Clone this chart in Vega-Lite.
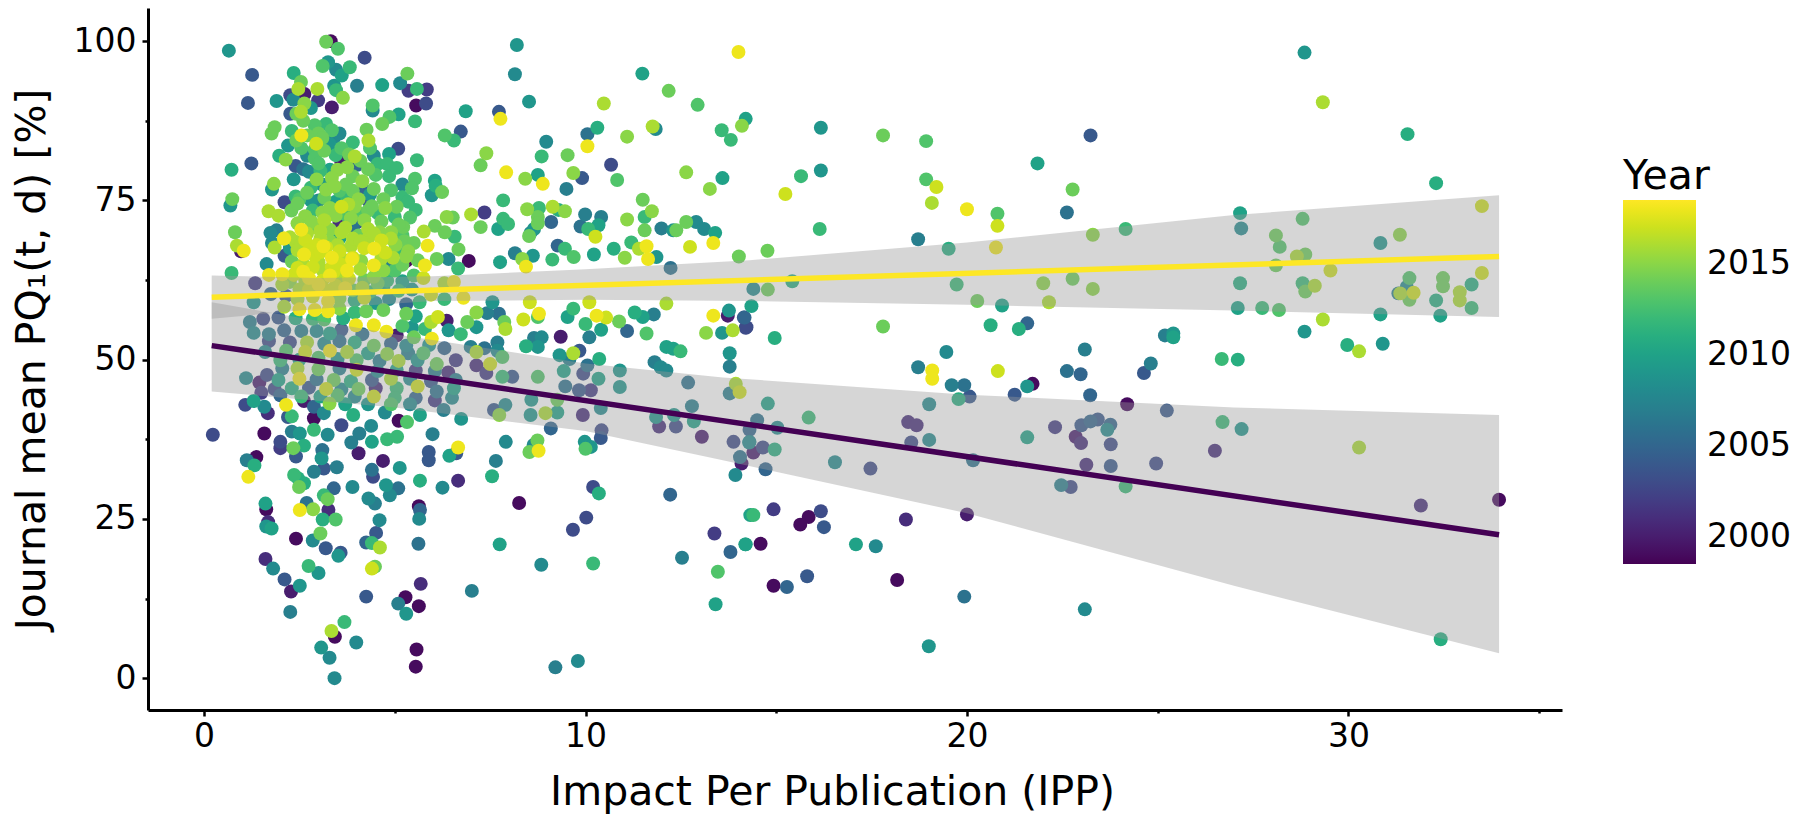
{"$schema":"https://vega.github.io/schema/vega-lite/v6.json","autosize":"none","width":1414,"height":702,"padding":{"left":148,"top":8,"right":238,"bottom":112},"background":"white","config":{"view":{"stroke":null},"font":"DejaVu Sans"},
"datasets":{
"journals":[
{"ipp":28.85,"pq1":98.2,"year":2009},{"ipp":29.33,"pq1":90.4,"year":2016},{"ipp":31.55,"pq1":85.4,"year":2011},{"ipp":23.24,"pq1":85.2,"year":2004},{"ipp":16.17,"pq1":86.4,"year":2009},{"ipp":17.8,"pq1":85.2,"year":2014},{"ipp":18.93,"pq1":84.3,"year":2013},{"ipp":14.2,"pq1":87.8,"year":2010},{"ipp":14.1,"pq1":86.7,"year":2015},{"ipp":32.3,"pq1":77.7,"year":2011},{"ipp":21.85,"pq1":80.8,"year":2010},{"ipp":16.17,"pq1":79.7,"year":2009},{"ipp":15.65,"pq1":78.8,"year":2012},{"ipp":18.93,"pq1":78.3,"year":2013},{"ipp":19.2,"pq1":77.1,"year":2017},{"ipp":15.24,"pq1":76,"year":2017},{"ipp":22.77,"pq1":76.7,"year":2014},{"ipp":22.62,"pq1":73.1,"year":2006},{"ipp":19.08,"pq1":74.6,"year":2016},{"ipp":20,"pq1":73.6,"year":2018},{"ipp":20.8,"pq1":72.9,"year":2013},{"ipp":20.8,"pq1":71,"year":2017},{"ipp":27.16,"pq1":73,"year":2010},{"ipp":27.19,"pq1":70.6,"year":2008},{"ipp":16.14,"pq1":70.5,"year":2012},{"ipp":24.16,"pq1":70.5,"year":2012},{"ipp":23.3,"pq1":69.6,"year":2015},{"ipp":28.8,"pq1":72.1,"year":2013},{"ipp":28.1,"pq1":69.5,"year":2014},{"ipp":28.2,"pq1":67.7,"year":2013},{"ipp":28.87,"pq1":66.5,"year":2014},{"ipp":28.65,"pq1":66.2,"year":2016},{"ipp":28.1,"pq1":64.8,"year":2014},{"ipp":31.35,"pq1":69.6,"year":2015},{"ipp":30.84,"pq1":68.3,"year":2009},{"ipp":33.5,"pq1":74.1,"year":2017},{"ipp":33.5,"pq1":63.6,"year":2017},{"ipp":18.72,"pq1":68.9,"year":2007},{"ipp":19.52,"pq1":67.4,"year":2011},{"ipp":20.76,"pq1":67.6,"year":2018},{"ipp":14.77,"pq1":67.1,"year":2014},{"ipp":29.53,"pq1":64,"year":2017},{"ipp":22,"pq1":62,"year":2015},{"ipp":22.77,"pq1":62.7,"year":2014},{"ipp":23.3,"pq1":61.1,"year":2015},{"ipp":19.73,"pq1":61.8,"year":2012},{"ipp":20.27,"pq1":59.2,"year":2014},{"ipp":20.92,"pq1":58.5,"year":2010},{"ipp":22.15,"pq1":59,"year":2016},{"ipp":15.42,"pq1":62.3,"year":2011},{"ipp":14.78,"pq1":61,"year":2014},{"ipp":14.4,"pq1":61.1,"year":2008},{"ipp":27.16,"pq1":62,"year":2011},{"ipp":27.1,"pq1":58.1,"year":2010},{"ipp":27.74,"pq1":58.1,"year":2012},{"ipp":28.18,"pq1":57.8,"year":2013},{"ipp":28.8,"pq1":62,"year":2012},{"ipp":28.87,"pq1":60.7,"year":2014},{"ipp":29.12,"pq1":61.6,"year":2016},{"ipp":30.84,"pq1":57.1,"year":2010},{"ipp":31.6,"pq1":62.8,"year":2013},{"ipp":31.53,"pq1":61.4,"year":2008},{"ipp":31.31,"pq1":60.4,"year":2007},{"ipp":31.36,"pq1":60.4,"year":2016},{"ipp":31.71,"pq1":60.5,"year":2017},{"ipp":31.6,"pq1":59.4,"year":2014},{"ipp":32.48,"pq1":62.8,"year":2014},{"ipp":32.48,"pq1":61.5,"year":2014},{"ipp":32.92,"pq1":60.6,"year":2016},{"ipp":32.92,"pq1":59.3,"year":2016},{"ipp":33.23,"pq1":61.8,"year":2011},{"ipp":33.23,"pq1":58.1,"year":2012},{"ipp":32.3,"pq1":59.3,"year":2011},{"ipp":32.41,"pq1":56.9,"year":2010},{"ipp":29.33,"pq1":56.3,"year":2016},{"ipp":28.85,"pq1":54.4,"year":2009},{"ipp":14.35,"pq1":58.4,"year":2010},{"ipp":17.8,"pq1":55.2,"year":2014},{"ipp":14.96,"pq1":53.4,"year":2011},{"ipp":20.62,"pq1":55.4,"year":2011},{"ipp":21.58,"pq1":55.7,"year":2005},{"ipp":21.36,"pq1":54.8,"year":2011},{"ipp":14.17,"pq1":56.6,"year":2005},{"ipp":14.22,"pq1":55.1,"year":2003},{"ipp":25.19,"pq1":53.8,"year":2007},{"ipp":25.41,"pq1":54.1,"year":2009},{"ipp":25.41,"pq1":53.5,"year":2010},{"ipp":26.68,"pq1":50.1,"year":2012},{"ipp":27.1,"pq1":50,"year":2011},{"ipp":29.97,"pq1":52.3,"year":2011},{"ipp":30.28,"pq1":51.3,"year":2016},{"ipp":30.9,"pq1":52.5,"year":2009},{"ipp":19.46,"pq1":51.2,"year":2008},{"ipp":23.09,"pq1":51.6,"year":2007},{"ipp":24.82,"pq1":49.4,"year":2007},{"ipp":24.64,"pq1":47.9,"year":2004},{"ipp":18.72,"pq1":48.8,"year":2007},{"ipp":19.09,"pq1":48.3,"year":2018},{"ipp":19.09,"pq1":47,"year":2018},{"ipp":20.81,"pq1":48.2,"year":2017},{"ipp":22.62,"pq1":48.2,"year":2006},{"ipp":22.98,"pq1":47.7,"year":2005},{"ipp":19.6,"pq1":46,"year":2007},{"ipp":19.93,"pq1":46,"year":2006},{"ipp":21.72,"pq1":46.2,"year":1999},{"ipp":21.58,"pq1":45.8,"year":2009},{"ipp":21.25,"pq1":44.5,"year":2004},{"ipp":23.23,"pq1":44.4,"year":2005},{"ipp":24.2,"pq1":43,"year":1999},
{"ipp":14.78,"pq1":43.1,"year":2010},{"ipp":15.85,"pq1":40.9,"year":2012},{"ipp":14.5,"pq1":40.5,"year":2006},{"ipp":15.03,"pq1":39.3,"year":2008},{"ipp":14.3,"pq1":39,"year":2005},{"ipp":14.3,"pq1":37.1,"year":2007},{"ipp":14.65,"pq1":36.2,"year":2003},{"ipp":14.96,"pq1":35.9,"year":2011},{"ipp":14.4,"pq1":35.4,"year":2000},{"ipp":14.72,"pq1":32.8,"year":2005},{"ipp":16.54,"pq1":33.9,"year":2008},{"ipp":17.47,"pq1":32.9,"year":2003},{"ipp":18.46,"pq1":40.2,"year":2001},{"ipp":18.68,"pq1":39.7,"year":2001},{"ipp":18.54,"pq1":37,"year":2003},{"ipp":19.01,"pq1":37.4,"year":2008},{"ipp":19.01,"pq1":43,"year":2008},{"ipp":19.78,"pq1":43.8,"year":2011},{"ipp":20.07,"pq1":44.2,"year":2004},{"ipp":20.16,"pq1":34.2,"year":2006},{"ipp":20,"pq1":25.7,"year":2000},{"ipp":19.93,"pq1":12.8,"year":2006},{"ipp":19,"pq1":5,"year":2009},{"ipp":22.31,"pq1":39.4,"year":2002},{"ipp":23,"pq1":39.7,"year":2004},{"ipp":23.24,"pq1":40.3,"year":2005},{"ipp":23.43,"pq1":40.6,"year":2004},{"ipp":23.76,"pq1":39.8,"year":2005},{"ipp":23.68,"pq1":39,"year":2008},{"ipp":22.85,"pq1":37.9,"year":2000},{"ipp":22.99,"pq1":36.9,"year":2001},{"ipp":21.58,"pq1":37.8,"year":2010},{"ipp":23.77,"pq1":36.7,"year":2003},{"ipp":23.13,"pq1":33.5,"year":2001},{"ipp":23.77,"pq1":33.3,"year":2004},{"ipp":24.96,"pq1":33.7,"year":2003},{"ipp":26.5,"pq1":35.7,"year":2001},{"ipp":25.24,"pq1":42,"year":2004},{"ipp":26.7,"pq1":40.2,"year":2012},{"ipp":27.2,"pq1":39.1,"year":2009},{"ipp":22.47,"pq1":30.3,"year":2007},{"ipp":22.72,"pq1":30,"year":2003},{"ipp":24.16,"pq1":30.1,"year":2012},{"ipp":30.28,"pq1":36.2,"year":2016},{"ipp":31.9,"pq1":27.1,"year":2001},{"ipp":33.95,"pq1":28,"year":1999},{"ipp":32.42,"pq1":6.1,"year":2011},{"ipp":23.09,"pq1":10.8,"year":2008},{"ipp":14.93,"pq1":26.5,"year":2002},{"ipp":14.4,"pq1":25.6,"year":2012},{"ipp":15.85,"pq1":25.3,"year":1999},{"ipp":15.63,"pq1":24.1,"year":1999},{"ipp":16.17,"pq1":26.2,"year":2003},{"ipp":16.25,"pq1":23.7,"year":2004},{"ipp":18.4,"pq1":24.9,"year":2001},{"ipp":14.2,"pq1":21,"year":2010},{"ipp":14.59,"pq1":21.1,"year":1999},{"ipp":17.09,"pq1":21,"year":2010},{"ipp":17.61,"pq1":20.7,"year":2008},{"ipp":14.93,"pq1":14.5,"year":1999},{"ipp":15.28,"pq1":14.3,"year":2005},{"ipp":15.81,"pq1":16,"year":2004},{"ipp":18.17,"pq1":15.4,"year":1999},
{"ipp":0.23,"pq1":38.2,"year":2003},{"ipp":1.08,"pq1":42.9,"year":2003},{"ipp":1.3,"pq1":43.5,"year":2010},{"ipp":1.58,"pq1":42.6,"year":2008},{"ipp":1.67,"pq1":41.6,"year":2001},{"ipp":1.58,"pq1":38.4,"year":1999},{"ipp":2.15,"pq1":42.9,"year":2018},{"ipp":2.3,"pq1":41.1,"year":2012},{"ipp":2.62,"pq1":43.5,"year":2000},{"ipp":2.88,"pq1":42.6,"year":2005},{"ipp":3.29,"pq1":43.1,"year":2015},{"ipp":3.14,"pq1":41.6,"year":2008},{"ipp":2.88,"pq1":40.8,"year":1999},{"ipp":2.2,"pq1":41,"year":2004},{"ipp":2.3,"pq1":38.7,"year":2007},{"ipp":2.51,"pq1":38.4,"year":2009},{"ipp":2.88,"pq1":39,"year":2012},{"ipp":3.24,"pq1":38.2,"year":2008},{"ipp":3.6,"pq1":39.7,"year":2003},{"ipp":3.91,"pq1":41.3,"year":2011},{"ipp":4.07,"pq1":38.4,"year":2007},{"ipp":4.38,"pq1":39.6,"year":2008},{"ipp":4.4,"pq1":37.1,"year":2010},{"ipp":3.86,"pq1":37,"year":2007},{"ipp":4.74,"pq1":41.7,"year":2008},{"ipp":4.8,"pq1":37.5,"year":2012},{"ipp":5.06,"pq1":37.9,"year":2012},{"ipp":5.1,"pq1":40.4,"year":1999},{"ipp":5.32,"pq1":40.2,"year":2013},{"ipp":5.66,"pq1":41.3,"year":2010},{"ipp":6.28,"pq1":42.1,"year":2007},{"ipp":6.74,"pq1":40.7,"year":2009},{"ipp":5.99,"pq1":38.3,"year":2007},{"ipp":2,"pq1":37.1,"year":2003},{"ipp":2,"pq1":36.1,"year":2002},{"ipp":2.34,"pq1":36.1,"year":2014},{"ipp":2.62,"pq1":36.5,"year":2011},{"ipp":2.41,"pq1":34.8,"year":2004},{"ipp":3.1,"pq1":35.8,"year":2006},{"ipp":3.08,"pq1":34.5,"year":2009},{"ipp":3.14,"pq1":32.9,"year":2004},{"ipp":2.88,"pq1":32.4,"year":2007},{"ipp":3.48,"pq1":33.1,"year":2007},{"ipp":4.05,"pq1":35.3,"year":2000},{"ipp":4.69,"pq1":34.1,"year":2000},{"ipp":4.4,"pq1":32.7,"year":2006},{"ipp":4.43,"pq1":31.6,"year":2003},{"ipp":5.13,"pq1":33,"year":2009},{"ipp":5.89,"pq1":35.5,"year":2004},{"ipp":5.89,"pq1":34.2,"year":2004},{"ipp":6.43,"pq1":34.9,"year":2010},{"ipp":6.66,"pq1":36.2,"year":2018},{"ipp":6.61,"pq1":35.3,"year":2004},{"ipp":7.65,"pq1":34.1,"year":2007},{"ipp":7.91,"pq1":37.1,"year":2008},{"ipp":7.55,"pq1":31.7,"year":2011},{"ipp":6.66,"pq1":31,"year":2001},{"ipp":6.25,"pq1":29.9,"year":2008},{"ipp":5.66,"pq1":31,"year":2011},{"ipp":8.53,"pq1":35.5,"year":2014},{"ipp":8.74,"pq1":37.3,"year":2014},{"ipp":8.64,"pq1":36.6,"year":2008},{"ipp":8.77,"pq1":35.7,"year":2018},{"ipp":9.09,"pq1":39.2,"year":2005},{"ipp":9.98,"pq1":37.1,"year":2009},{"ipp":10.14,"pq1":36.3,"year":2009},{"ipp":10,"pq1":36,"year":2013},{"ipp":10.4,"pq1":37.7,"year":2004},{"ipp":10.42,"pq1":38.9,"year":2003},{"ipp":13.93,"pq1":31.9,"year":2008},{"ipp":14.05,"pq1":34.7,"year":2006},{"ipp":14.09,"pq1":33.7,"year":2000},{"ipp":8.26,"pq1":27.5,"year":1999},{"ipp":10.2,"pq1":30,"year":2003},{"ipp":10.35,"pq1":29,"year":2011},{"ipp":10.02,"pq1":25.2,"year":2003},{"ipp":9.67,"pq1":23.3,"year":2003},{"ipp":12.22,"pq1":28.8,"year":2005},{"ipp":13.38,"pq1":22.7,"year":2002},{"ipp":12.53,"pq1":18.9,"year":2007},{"ipp":13.8,"pq1":19.8,"year":2005},{"ipp":14.19,"pq1":21,"year":2010},{"ipp":13.47,"pq1":16.7,"year":2013},{"ipp":13.41,"pq1":11.6,"year":2010},{"ipp":14.32,"pq1":25.6,"year":2010},{"ipp":10.2,"pq1":18,"year":2012},{"ipp":8.84,"pq1":17.8,"year":2008},{"ipp":7.75,"pq1":21,"year":2010},{"ipp":7.02,"pq1":13.7,"year":2007},{"ipp":9.21,"pq1":1.7,"year":2007},{"ipp":9.8,"pq1":2.7,"year":2008},{"ipp":1.12,"pq1":34.2,"year":2007},{"ipp":1.37,"pq1":34.7,"year":1999},{"ipp":1.32,"pq1":33.4,"year":2011},{"ipp":1.16,"pq1":31.6,"year":2018},{"ipp":2.36,"pq1":31.9,"year":2012},{"ipp":2.46,"pq1":31.4,"year":2011},{"ipp":2.62,"pq1":30.6,"year":2011},{"ipp":2.49,"pq1":30,"year":2014},{"ipp":3.4,"pq1":29.8,"year":2005},{"ipp":3.89,"pq1":30,"year":2008},{"ipp":4.77,"pq1":30.3,"year":2009},{"ipp":5.09,"pq1":29.8,"year":2006},{"ipp":4.87,"pq1":28.7,"year":2008},{"ipp":3.14,"pq1":28.7,"year":2012},{"ipp":3.24,"pq1":28.1,"year":2014},{"ipp":4.31,"pq1":28.2,"year":2008},{"ipp":4.48,"pq1":27.4,"year":2007},{"ipp":1.61,"pq1":27.4,"year":2010},{"ipp":1.63,"pq1":26.5,"year":1999},{"ipp":2.69,"pq1":27.5,"year":2006},{"ipp":3.26,"pq1":26.4,"year":2001},{"ipp":2.51,"pq1":26.4,"year":2018},{"ipp":2.86,"pq1":26.5,"year":2015},{"ipp":5.63,"pq1":27,"year":1999},{"ipp":5.66,"pq1":26.4,"year":2005},{"ipp":4.6,"pq1":24.8,"year":2008},{"ipp":5.64,"pq1":25,"year":2008},{"ipp":1.68,"pq1":24.5,"year":2001},{"ipp":1.63,"pq1":23.8,"year":2009},{"ipp":1.77,"pq1":23.5,"year":2010},{"ipp":3.11,"pq1":24.9,"year":2011},{"ipp":3.45,"pq1":24.9,"year":2013},{"ipp":2.41,"pq1":21.9,"year":1999},{"ipp":3.05,"pq1":22.7,"year":2014},{"ipp":4.51,"pq1":22.8,"year":2004},{"ipp":2.85,"pq1":21.6,"year":2008},{"ipp":4.25,"pq1":21.3,"year":2005},{"ipp":4.4,"pq1":21.2,"year":2012},{"ipp":4.61,"pq1":20.5,"year":2016},{"ipp":5.62,"pq1":21.1,"year":2006},{"ipp":3.19,"pq1":20.4,"year":2004},{"ipp":3.58,"pq1":19.7,"year":2004},{"ipp":3.52,"pq1":19.2,"year":2009},{"ipp":1.61,"pq1":18.7,"year":2001},{"ipp":1.81,"pq1":17.2,"year":2008},{"ipp":2.74,"pq1":17.6,"year":2012},{"ipp":3,"pq1":16.5,"year":2009},{"ipp":4.48,"pq1":17.5,"year":2014},{"ipp":4.4,"pq1":17.2,"year":2017},{"ipp":2.11,"pq1":15.5,"year":2004},{"ipp":2.51,"pq1":14.5,"year":2009},{"ipp":2.28,"pq1":13.6,"year":2000},{"ipp":5.68,"pq1":14.8,"year":2001},{"ipp":4.25,"pq1":12.8,"year":2004},{"ipp":5.28,"pq1":12.7,"year":1999},{"ipp":5.09,"pq1":11.7,"year":2007},{"ipp":5.63,"pq1":11.3,"year":1999},{"ipp":5.3,"pq1":10.1,"year":2009},{"ipp":2.26,"pq1":10.4,"year":2007},{"ipp":3.68,"pq1":8.8,"year":2012},{"ipp":3.34,"pq1":7.4,"year":2016},{"ipp":3.43,"pq1":6.5,"year":1999},{"ipp":3.99,"pq1":5.6,"year":2008},{"ipp":3.07,"pq1":4.8,"year":2009},{"ipp":3.29,"pq1":3.2,"year":2008},{"ipp":3.42,"pq1":0,"year":2008},{"ipp":5.57,"pq1":4.5,"year":1999},{"ipp":5.55,"pq1":1.8,"year":1999},
{"ipp":0.65,"pq1":98.5,"year":2009},{"ipp":3.32,"pq1":100,"year":1999},{"ipp":3.2,"pq1":99.9,"year":2014},{"ipp":3.51,"pq1":98.8,"year":2013},{"ipp":4.21,"pq1":97.4,"year":2003},{"ipp":8.2,"pq1":99.4,"year":2009},{"ipp":14.01,"pq1":98.3,"year":2018},{"ipp":1.26,"pq1":94.7,"year":2004},{"ipp":2.35,"pq1":95,"year":2011},{"ipp":3.11,"pq1":96.1,"year":2013},{"ipp":3.25,"pq1":96.7,"year":2009},{"ipp":3.82,"pq1":95.9,"year":2012},{"ipp":3.46,"pq1":95.5,"year":2008},{"ipp":3.61,"pq1":94.6,"year":2010},{"ipp":5.33,"pq1":94.9,"year":2014},{"ipp":8.15,"pq1":94.8,"year":2008},{"ipp":11.49,"pq1":94.9,"year":2010},{"ipp":12.18,"pq1":92.2,"year":2014},{"ipp":1.15,"pq1":90.3,"year":2004},{"ipp":1.9,"pq1":90.6,"year":2009},{"ipp":2.54,"pq1":93.6,"year":2014},{"ipp":2.47,"pq1":92.5,"year":2016},{"ipp":2.97,"pq1":92.5,"year":2016},{"ipp":2.63,"pq1":91.7,"year":2000},{"ipp":2.26,"pq1":91.5,"year":2003},{"ipp":2.34,"pq1":90.8,"year":2008},{"ipp":2.99,"pq1":90.7,"year":2002},{"ipp":3.41,"pq1":93,"year":2009},{"ipp":3.46,"pq1":92.3,"year":2012},{"ipp":4.01,"pq1":93,"year":2007},{"ipp":4.67,"pq1":93.1,"year":2010},{"ipp":5.14,"pq1":93.4,"year":2008},{"ipp":5.36,"pq1":92.2,"year":2002},{"ipp":5.58,"pq1":92.5,"year":2012},{"ipp":5.84,"pq1":92.4,"year":2002},{"ipp":5.56,"pq1":89.9,"year":1999},{"ipp":5.82,"pq1":90.2,"year":2003},{"ipp":3.35,"pq1":89.6,"year":2000},{"ipp":3.64,"pq1":91.1,"year":2015},{"ipp":4.42,"pq1":89.9,"year":2013},{"ipp":4.42,"pq1":89.1,"year":2008},{"ipp":2.63,"pq1":90.2,"year":2015},{"ipp":2.8,"pq1":89.5,"year":2009},{"ipp":2.26,"pq1":88.6,"year":2004},{"ipp":2.42,"pq1":88.6,"year":2014},{"ipp":2.54,"pq1":88.9,"year":2016},{"ipp":8.52,"pq1":90.5,"year":2009},{"ipp":6.86,"pq1":89,"year":2010},{"ipp":7.73,"pq1":88.9,"year":2004},{"ipp":7.77,"pq1":87.8,"year":2018},{"ipp":10.48,"pq1":90.2,"year":2016},{"ipp":12.94,"pq1":90,"year":2013},{"ipp":10.31,"pq1":86.4,"year":2011},{"ipp":10.05,"pq1":85.4,"year":2006},{"ipp":10.05,"pq1":83.5,"year":2018},{"ipp":11.76,"pq1":86.6,"year":2016},{"ipp":11.84,"pq1":86.2,"year":2008},{"ipp":13.57,"pq1":86,"year":2012},{"ipp":13.81,"pq1":84.5,"year":2012},{"ipp":11.09,"pq1":85,"year":2015},{"ipp":5.1,"pq1":88.5,"year":2010},{"ipp":4.86,"pq1":88.1,"year":2013},{"ipp":4.67,"pq1":87,"year":2014},{"ipp":5.53,"pq1":87.4,"year":2012},{"ipp":4.26,"pq1":86.1,"year":2014},{"ipp":4.31,"pq1":84.4,"year":2016},{"ipp":6.73,"pq1":85.8,"year":2004},{"ipp":6.31,"pq1":85.2,"year":2013},{"ipp":6.55,"pq1":84.4,"year":2012},{"ipp":5.09,"pq1":83.1,"year":2003},{"ipp":8.97,"pq1":84.2,"year":2008},{"ipp":8.85,"pq1":81.9,"year":2012},{"ipp":9.53,"pq1":82.1,"year":2014},{"ipp":7.4,"pq1":82.4,"year":2015},{"ipp":7.25,"pq1":80.5,"year":2014},{"ipp":5.58,"pq1":81.3,"year":2012},{"ipp":7.92,"pq1":79.4,"year":2018},{"ipp":8.42,"pq1":78.4,"year":2015},{"ipp":8.88,"pq1":77.6,"year":2018},{"ipp":8.75,"pq1":79,"year":2010},{"ipp":9.68,"pq1":79.3,"year":2015},{"ipp":9.91,"pq1":78.5,"year":2004},{"ipp":9.5,"pq1":76.8,"year":2007},{"ipp":10.67,"pq1":80.6,"year":2003},{"ipp":10.83,"pq1":78.2,"year":2013},{"ipp":12.64,"pq1":79.4,"year":2015},{"ipp":13.59,"pq1":78.5,"year":2010},{"ipp":13.26,"pq1":76.8,"year":2015},{"ipp":11.5,"pq1":75.1,"year":2014},{"ipp":11.74,"pq1":73.3,"year":2015},{"ipp":11.55,"pq1":72.4,"year":2012},{"ipp":11.09,"pq1":72,"year":2015},{"ipp":9.99,"pq1":72.8,"year":2007},{"ipp":10.41,"pq1":72.4,"year":2007},{"ipp":9.1,"pq1":71.6,"year":2005},{"ipp":9.87,"pq1":70.9,"year":2006},{"ipp":10.07,"pq1":70.5,"year":2012},{"ipp":10.34,"pq1":71.1,"year":2010},{"ipp":10.26,"pq1":69.3,"year":2017},{"ipp":11.99,"pq1":70.6,"year":2007},{"ipp":11.55,"pq1":70.3,"year":2014},{"ipp":12.38,"pq1":70.3,"year":2014},{"ipp":12.3,"pq1":70.3,"year":2009},{"ipp":12.64,"pq1":71.6,"year":2014},{"ipp":12.9,"pq1":71.6,"year":2008},{"ipp":13.11,"pq1":70.5,"year":2008},{"ipp":13.4,"pq1":69.9,"year":2010},{"ipp":13.35,"pq1":68.3,"year":2018},{"ipp":12.74,"pq1":67.7,"year":2017},{"ipp":14.02,"pq1":66.2,"year":2014},{"ipp":11.6,"pq1":67.8,"year":2018},{"ipp":11.4,"pq1":67.4,"year":2016},{"ipp":11.2,"pq1":68.4,"year":2012},{"ipp":10.74,"pq1":67.4,"year":2011},{"ipp":10.22,"pq1":66.5,"year":2010},{"ipp":9.69,"pq1":66.1,"year":2013},{"ipp":9.46,"pq1":67.4,"year":2012},{"ipp":9.27,"pq1":67.9,"year":2005},{"ipp":11.64,"pq1":65.8,"year":2018},{"ipp":11.86,"pq1":66.1,"year":2009},{"ipp":11.03,"pq1":66,"year":2015},{"ipp":9.13,"pq1":65.7,"year":2012},{"ipp":8.62,"pq1":66.3,"year":2009},{"ipp":8.34,"pq1":65.8,"year":2015},{"ipp":8.15,"pq1":66.7,"year":2007},{"ipp":8.44,"pq1":64.6,"year":2018},{"ipp":7.76,"pq1":65.3,"year":2010},{"ipp":6.94,"pq1":65.5,"year":1999},{"ipp":6.41,"pq1":65.8,"year":2008},{"ipp":6.67,"pq1":67.3,"year":2014},{"ipp":5.86,"pq1":67.9,"year":2018},{"ipp":5.79,"pq1":64.8,"year":2018},{"ipp":6.1,"pq1":65.8,"year":2014},{"ipp":6.66,"pq1":64.3,"year":2012},{"ipp":12.23,"pq1":64.4,"year":2006},
{"ipp":0.72,"pq1":79.8,"year":2011},{"ipp":1.24,"pq1":80.8,"year":2004},{"ipp":0.74,"pq1":75.2,"year":2014},{"ipp":0.69,"pq1":74.2,"year":2009},{"ipp":0.81,"pq1":70,"year":2014},{"ipp":0.86,"pq1":67.9,"year":2016},{"ipp":1.04,"pq1":67.1,"year":2018},{"ipp":0.97,"pq1":67,"year":2000},{"ipp":0.72,"pq1":63.6,"year":2012},{"ipp":1.34,"pq1":62,"year":2002},{"ipp":1.64,"pq1":65,"year":2008},{"ipp":1.78,"pq1":68.3,"year":2008},{"ipp":1.9,"pq1":70.3,"year":2007},{"ipp":1.74,"pq1":69.9,"year":2008},{"ipp":2.09,"pq1":69,"year":2017},{"ipp":1.85,"pq1":67.6,"year":2016},{"ipp":2.11,"pq1":66.3,"year":2004},{"ipp":1.69,"pq1":73.3,"year":2016},{"ipp":1.95,"pq1":72.6,"year":2016},{"ipp":2.29,"pq1":73.4,"year":2014},{"ipp":2.11,"pq1":74.7,"year":2003},{"ipp":1.78,"pq1":76.7,"year":2009},{"ipp":1.83,"pq1":77.6,"year":2015},{"ipp":1.97,"pq1":82,"year":2011},{"ipp":2.14,"pq1":81.4,"year":2015},{"ipp":1.77,"pq1":85.5,"year":2014},{"ipp":1.85,"pq1":86.5,"year":2014},{"ipp":2.42,"pq1":84.4,"year":2014},{"ipp":2.55,"pq1":85.2,"year":2018},{"ipp":2.94,"pq1":83.9,"year":2017},
{"ipp":7.35,"pq1":73.1,"year":2002},{"ipp":7,"pq1":72.8,"year":2016},{"ipp":7.25,"pq1":70.8,"year":2014},{"ipp":7.84,"pq1":75,"year":2012},{"ipp":7.84,"pq1":72.1,"year":2012},{"ipp":7.97,"pq1":71.3,"year":2012},{"ipp":7.71,"pq1":70.5,"year":2010},{"ipp":6.36,"pq1":72.4,"year":2015},{"ipp":6.52,"pq1":72.3,"year":2014},{"ipp":6.05,"pq1":78.1,"year":2010},{"ipp":6.07,"pq1":77.3,"year":2011},{"ipp":5.97,"pq1":75.8,"year":2009},{"ipp":6.24,"pq1":76.3,"year":2014},{"ipp":5.53,"pq1":78.4,"year":2013},{"ipp":8.47,"pq1":73.6,"year":2015},{"ipp":8.78,"pq1":73.8,"year":2012},{"ipp":9.14,"pq1":74,"year":2016},{"ipp":9.29,"pq1":73.5,"year":2011},{"ipp":9.46,"pq1":73.3,"year":2015},{"ipp":8.75,"pq1":72.4,"year":2014},{"ipp":8.75,"pq1":71.4,"year":2014},{"ipp":8.65,"pq1":70.5,"year":2009},{"ipp":8.56,"pq1":69.9,"year":2008},{"ipp":8.52,"pq1":69.4,"year":2014},{"ipp":6.05,"pq1":71,"year":2014},{"ipp":6.31,"pq1":70,"year":2014},{"ipp":6.57,"pq1":69.3,"year":2012},{"ipp":5.76,"pq1":70.1,"year":2016},{"ipp":5.22,"pq1":70.8,"year":2014},
{"ipp":8.54,"pq1":59,"year":2017},{"ipp":8.78,"pq1":57.2,"year":2018},{"ipp":8.37,"pq1":56.3,"year":2017},{"ipp":8.75,"pq1":56.7,"year":2013},{"ipp":10.1,"pq1":59,"year":2017},{"ipp":10.29,"pq1":56.9,"year":2018},{"ipp":10.54,"pq1":56.6,"year":2017},{"ipp":10.88,"pq1":56,"year":2014},{"ipp":9.68,"pq1":58,"year":2012},{"ipp":9.53,"pq1":56.7,"year":2010},{"ipp":10,"pq1":55.6,"year":2012},{"ipp":10.1,"pq1":53.5,"year":2007},{"ipp":10.41,"pq1":54.7,"year":2010},{"ipp":11.09,"pq1":54.5,"year":2005},{"ipp":11.6,"pq1":54.1,"year":2013},{"ipp":11.29,"pq1":57.4,"year":2011},{"ipp":11.5,"pq1":56.7,"year":2010},{"ipp":11.79,"pq1":57.1,"year":2007},{"ipp":12.12,"pq1":58.8,"year":2016},{"ipp":9.35,"pq1":53.6,"year":2000},{"ipp":8.85,"pq1":53.5,"year":2008},{"ipp":8.65,"pq1":53.4,"year":2007},{"ipp":8.44,"pq1":52.1,"year":2011},{"ipp":8.75,"pq1":52,"year":2009},{"ipp":9.32,"pq1":50.7,"year":2009},{"ipp":9.68,"pq1":51,"year":2016},{"ipp":9.84,"pq1":51.4,"year":2004},{"ipp":9.58,"pq1":50.1,"year":2007},{"ipp":10.36,"pq1":50.1,"year":2011},{"ipp":10.05,"pq1":49.1,"year":2006},{"ipp":12.12,"pq1":52,"year":2010},{"ipp":12.49,"pq1":51.3,"year":2012},{"ipp":12.3,"pq1":51.7,"year":2010},{"ipp":11.81,"pq1":49.6,"year":2007},{"ipp":11.97,"pq1":48.8,"year":2008},{"ipp":12.12,"pq1":48.3,"year":2008},{"ipp":10.9,"pq1":48.3,"year":2009},{"ipp":13.78,"pq1":51,"year":2009},{"ipp":13.78,"pq1":48.9,"year":2007},{"ipp":13.35,"pq1":56.9,"year":2018},{"ipp":13.73,"pq1":56.9,"year":2000},{"ipp":13.76,"pq1":57.7,"year":2009},{"ipp":14.15,"pq1":56.6,"year":2004},{"ipp":13.86,"pq1":54.6,"year":2016},{"ipp":13.58,"pq1":54.2,"year":2009},{"ipp":14.2,"pq1":55,"year":2003},{"ipp":13.16,"pq1":54.2,"year":2015},{"ipp":7.14,"pq1":55.1,"year":2009},{"ipp":6.9,"pq1":55.9,"year":2014},{"ipp":7.14,"pq1":57.4,"year":2015},{"ipp":7.42,"pq1":57.3,"year":2007},{"ipp":7.73,"pq1":57.2,"year":2006},{"ipp":7.87,"pq1":55.9,"year":2014},{"ipp":7.9,"pq1":54.8,"year":2016},{"ipp":7.56,"pq1":59,"year":2009},{"ipp":6.73,"pq1":54,"year":2012},{"ipp":6.41,"pq1":54.6,"year":2009},{"ipp":5.97,"pq1":53.3,"year":2018},{"ipp":5.95,"pq1":55.9,"year":2016},{"ipp":6.13,"pq1":56.7,"year":2017},{"ipp":5.79,"pq1":54.8,"year":2012},{"ipp":6.36,"pq1":56.1,"year":2000},{"ipp":7.14,"pq1":51.2,"year":2016},{"ipp":6.99,"pq1":52,"year":2007},{"ipp":7.35,"pq1":51.8,"year":2006},{"ipp":7.69,"pq1":52.7,"year":2007},{"ipp":7.69,"pq1":51.4,"year":2008},{"ipp":7.82,"pq1":50.4,"year":2013},{"ipp":7.5,"pq1":49.3,"year":2017},{"ipp":7.14,"pq1":49.1,"year":2001},{"ipp":7.4,"pq1":47.9,"year":2002},{"ipp":7.82,"pq1":47.3,"year":2012},{"ipp":8.08,"pq1":47.3,"year":2004},{"ipp":8.75,"pq1":47.3,"year":2013},{"ipp":9.43,"pq1":48.2,"year":2010},{"ipp":9.94,"pq1":47.8,"year":2003},{"ipp":10.34,"pq1":47,"year":2010},{"ipp":10.9,"pq1":45.7,"year":2009},{"ipp":12.69,"pq1":46.4,"year":2006},{"ipp":13.94,"pq1":46.2,"year":2016},{"ipp":14.04,"pq1":44.9,"year":2017},{"ipp":13.78,"pq1":44.7,"year":2007},{"ipp":7.6,"pq1":42.1,"year":2004},{"ipp":7.9,"pq1":42.9,"year":2008},{"ipp":7.74,"pq1":41.3,"year":2015},{"ipp":8.58,"pq1":43.7,"year":2009},{"ipp":8.56,"pq1":41.3,"year":2009},{"ipp":8.95,"pq1":41.6,"year":2016},{"ipp":9.26,"pq1":41.7,"year":2010},{"ipp":9.93,"pq1":41.3,"year":2001},{"ipp":10.4,"pq1":42.4,"year":2008},{"ipp":9.26,"pq1":43.7,"year":2014},{"ipp":9.83,"pq1":45.2,"year":2004},{"ipp":10.14,"pq1":45.2,"year":2002},{"ipp":9.47,"pq1":45.8,"year":2006},{"ipp":11.85,"pq1":41,"year":2009},{"ipp":12.32,"pq1":41.3,"year":2009},{"ipp":11.93,"pq1":39.5,"year":2001},{"ipp":12.37,"pq1":39.5,"year":2003},{"ipp":12.79,"pq1":42.7,"year":2007},{"ipp":12.84,"pq1":40.3,"year":2010},{"ipp":13.05,"pq1":37.9,"year":2000},{"ipp":13.88,"pq1":37.1,"year":2003},{"ipp":14.29,"pq1":37,"year":2008},
{"ipp":2.6,"pq1":87.5,"year":2014},{"ipp":2.9,"pq1":86.8,"year":2013},{"ipp":3,"pq1":85.5,"year":2014},{"ipp":3.2,"pq1":87,"year":2012},{"ipp":3.35,"pq1":86,"year":2013},{"ipp":3.4,"pq1":84.8,"year":2008},{"ipp":3.55,"pq1":85.5,"year":2008},{"ipp":3.3,"pq1":83.8,"year":2009},{"ipp":3.6,"pq1":83.2,"year":2013},{"ipp":3.8,"pq1":82.2,"year":2014},{"ipp":3.95,"pq1":81.9,"year":2016},{"ipp":4.02,"pq1":80.6,"year":2005},{"ipp":3.6,"pq1":81,"year":2000},{"ipp":4.1,"pq1":81.2,"year":2014},{"ipp":4.45,"pq1":82,"year":2008},{"ipp":4.55,"pq1":80.7,"year":2012},{"ipp":4.8,"pq1":80.7,"year":2012},{"ipp":2.9,"pq1":83,"year":2013},{"ipp":2.7,"pq1":82,"year":2008},{"ipp":2.9,"pq1":81.6,"year":2013},{"ipp":2.4,"pq1":80.4,"year":2004},{"ipp":2.6,"pq1":79.9,"year":2006},{"ipp":2.75,"pq1":79.5,"year":2008},{"ipp":3.05,"pq1":79.6,"year":2012},{"ipp":3.3,"pq1":79.8,"year":2010},{"ipp":3.5,"pq1":79.8,"year":2015},{"ipp":3.35,"pq1":78.5,"year":2015},{"ipp":2.35,"pq1":78.3,"year":2009},{"ipp":2.8,"pq1":77,"year":2012},{"ipp":3.1,"pq1":77.5,"year":2009},{"ipp":3.2,"pq1":76.7,"year":2015},{"ipp":3.55,"pq1":76.5,"year":2013},{"ipp":3.9,"pq1":78.8,"year":2014},{"ipp":4.15,"pq1":78,"year":2015},{"ipp":4.5,"pq1":79,"year":2013},{"ipp":4.85,"pq1":78.8,"year":2012},{"ipp":4.2,"pq1":76.5,"year":2005},{"ipp":4.35,"pq1":75.9,"year":2009},{"ipp":4.3,"pq1":75,"year":2004},{"ipp":3.9,"pq1":76.5,"year":2014},{"ipp":3.75,"pq1":75.4,"year":2012},{"ipp":4.3,"pq1":73.4,"year":2014},{"ipp":4.7,"pq1":75.2,"year":2014},{"ipp":5.2,"pq1":75.5,"year":2012},{"ipp":2.4,"pq1":75.6,"year":2012},{"ipp":2.5,"pq1":75.2,"year":2013},{"ipp":2.45,"pq1":74.5,"year":2014},{"ipp":2.8,"pq1":75,"year":2009},{"ipp":3,"pq1":75,"year":2008},{"ipp":3.45,"pq1":74.8,"year":2010},{"ipp":3.78,"pq1":74.4,"year":2016},{"ipp":3.6,"pq1":74,"year":2017},{"ipp":2.85,"pq1":73.4,"year":2012},{"ipp":3.1,"pq1":73.1,"year":2015},{"ipp":3.3,"pq1":73.8,"year":2015},{"ipp":2.65,"pq1":72.5,"year":2015},{"ipp":3.7,"pq1":72.8,"year":2013},{"ipp":4.05,"pq1":73,"year":2013},{"ipp":4.55,"pq1":73,"year":2012},{"ipp":5,"pq1":72.4,"year":2012},{"ipp":3.55,"pq1":71.5,"year":2001},{"ipp":4,"pq1":71.5,"year":2004},{"ipp":3.9,"pq1":71,"year":2006},{"ipp":2.55,"pq1":70.4,"year":2018},{"ipp":2.9,"pq1":70.8,"year":2014},{"ipp":3.3,"pq1":70.4,"year":2015},{"ipp":3.7,"pq1":70.7,"year":2016},{"ipp":4.3,"pq1":70.5,"year":2016},{"ipp":4.6,"pq1":70,"year":2015},{"ipp":4.9,"pq1":70,"year":2015},{"ipp":5.2,"pq1":69.5,"year":2013},{"ipp":5.25,"pq1":68.6,"year":2014},{"ipp":5.02,"pq1":68,"year":2015},{"ipp":4.65,"pq1":68.7,"year":2017},{"ipp":4.3,"pq1":69,"year":2016},{"ipp":4.05,"pq1":69.5,"year":2014},{"ipp":3.55,"pq1":69.1,"year":2010},{"ipp":3.3,"pq1":68.6,"year":2015},{"ipp":3.05,"pq1":69,"year":2016},{"ipp":2.65,"pq1":68.8,"year":2017},{"ipp":2.4,"pq1":68.5,"year":2016},{"ipp":2.25,"pq1":69.2,"year":2016},{"ipp":2.1,"pq1":69,"year":2018},{"ipp":2.25,"pq1":67.5,"year":2009},{"ipp":2.6,"pq1":67.5,"year":2015},{"ipp":3.2,"pq1":67.6,"year":2017},{"ipp":3.85,"pq1":67.8,"year":2016},{"ipp":4.2,"pq1":67.5,"year":2017},{"ipp":4.46,"pq1":67.4,"year":2018},{"ipp":4.75,"pq1":66.8,"year":2017},{"ipp":5.05,"pq1":67.1,"year":2012},{"ipp":2.62,"pq1":66.5,"year":2018},{"ipp":2.9,"pq1":66.3,"year":2017},{"ipp":3.13,"pq1":67.8,"year":2018},{"ipp":3.35,"pq1":66,"year":2018},{"ipp":3.62,"pq1":65.8,"year":2016},{"ipp":3.9,"pq1":66,"year":2017},{"ipp":4.12,"pq1":65.5,"year":2015},{"ipp":3.88,"pq1":65.8,"year":2018},{"ipp":2.3,"pq1":65.4,"year":2014},{"ipp":2.6,"pq1":65,"year":2016},{"ipp":3,"pq1":65.3,"year":2016},{"ipp":3.35,"pq1":64.5,"year":2017},{"ipp":3.75,"pq1":64,"year":2018},{"ipp":4.45,"pq1":64.8,"year":2018},{"ipp":4.9,"pq1":65.5,"year":2007},{"ipp":5.3,"pq1":65.5,"year":1999},{"ipp":5.6,"pq1":65.6,"year":2014},{"ipp":5.2,"pq1":64.9,"year":2014},{"ipp":5,"pq1":64,"year":2013},{"ipp":2.05,"pq1":63.4,"year":2018},{"ipp":1.7,"pq1":63.3,"year":2018},{"ipp":2.35,"pq1":63.3,"year":2017},{"ipp":2.6,"pq1":63.8,"year":2018},{"ipp":2.65,"pq1":62.5,"year":2016},{"ipp":3.3,"pq1":63.2,"year":2018},{"ipp":3.4,"pq1":63.8,"year":2017},{"ipp":3.8,"pq1":62.7,"year":2017},{"ipp":4.2,"pq1":62.5,"year":2014},{"ipp":4.8,"pq1":62.4,"year":2012},{"ipp":5.2,"pq1":62.3,"year":2010},{"ipp":5.5,"pq1":63.2,"year":2013},{"ipp":5.75,"pq1":62.8,"year":2017},{"ipp":6.3,"pq1":62,"year":2016},{"ipp":6.55,"pq1":62.2,"year":2018},{"ipp":2.05,"pq1":61.8,"year":2016},{"ipp":2.5,"pq1":61,"year":2016},{"ipp":3,"pq1":61.8,"year":2018},{"ipp":3.45,"pq1":61.6,"year":2017},{"ipp":3.9,"pq1":60.9,"year":2014},{"ipp":4.35,"pq1":60.6,"year":2012},{"ipp":4.7,"pq1":61.4,"year":2010},{"ipp":5.1,"pq1":60.8,"year":2012},{"ipp":5.45,"pq1":61,"year":2009},{"ipp":5.95,"pq1":60.2,"year":2017},{"ipp":6.8,"pq1":59.7,"year":2018},{"ipp":6.3,"pq1":59.5,"year":2012},{"ipp":1.3,"pq1":59,"year":2009},{"ipp":1.75,"pq1":60.3,"year":2005},{"ipp":2.15,"pq1":60,"year":2004},{"ipp":2.45,"pq1":59.5,"year":2016},{"ipp":2.85,"pq1":59.9,"year":2017},{"ipp":3.25,"pq1":59.2,"year":2018},{"ipp":3.55,"pq1":59.6,"year":2015},{"ipp":3.95,"pq1":59.3,"year":2011},{"ipp":4.2,"pq1":59.7,"year":2017},{"ipp":4.5,"pq1":58.9,"year":2009},{"ipp":4.85,"pq1":59.5,"year":2008},{"ipp":5.3,"pq1":58.7,"year":2005},{"ipp":5.65,"pq1":59,"year":2012},{"ipp":2.1,"pq1":58.3,"year":2016},{"ipp":2.5,"pq1":57.9,"year":2018},{"ipp":2.9,"pq1":57.8,"year":2018},{"ipp":3.25,"pq1":57.6,"year":2018},{"ipp":3.55,"pq1":58,"year":2015},{"ipp":3.95,"pq1":57.4,"year":2012},{"ipp":4.25,"pq1":57.6,"year":2014},{"ipp":4.7,"pq1":57.8,"year":2014},{"ipp":5.3,"pq1":57.2,"year":2014},{"ipp":5.55,"pq1":56.8,"year":2010},{"ipp":1.2,"pq1":55.9,"year":2007},{"ipp":1.55,"pq1":56.4,"year":2003},{"ipp":1.95,"pq1":56.6,"year":2004},{"ipp":2.4,"pq1":56.5,"year":2011},{"ipp":2.85,"pq1":56.4,"year":2012},{"ipp":3.15,"pq1":56.3,"year":2013},{"ipp":3.65,"pq1":56.5,"year":2011},{"ipp":3.98,"pq1":55.4,"year":2018},{"ipp":4.45,"pq1":55.4,"year":2018},{"ipp":4.78,"pq1":54.4,"year":2018},{"ipp":5.2,"pq1":55.3,"year":2013},{"ipp":5.45,"pq1":55,"year":2009},{"ipp":1.3,"pq1":54.2,"year":2008},{"ipp":1.7,"pq1":54,"year":2007},{"ipp":2.1,"pq1":54.6,"year":2005},{"ipp":2.55,"pq1":54.5,"year":2007},{"ipp":2.95,"pq1":54.5,"year":2008},{"ipp":3.3,"pq1":54.1,"year":2010},{"ipp":3.6,"pq1":54.7,"year":2004},{"ipp":4.15,"pq1":54,"year":2006},{"ipp":5.05,"pq1":53.8,"year":2000},{"ipp":5.5,"pq1":53.5,"year":2014},{"ipp":1.7,"pq1":52.9,"year":2003},{"ipp":2.25,"pq1":52.7,"year":2003},{"ipp":2.7,"pq1":52.7,"year":2016},{"ipp":3.15,"pq1":52.5,"year":2008},{"ipp":3.55,"pq1":52.9,"year":2006},{"ipp":3.95,"pq1":52.7,"year":2011},{"ipp":4.45,"pq1":52.2,"year":2014},{"ipp":4.9,"pq1":52.5,"year":2005},{"ipp":5.3,"pq1":52.2,"year":2008},{"ipp":5.9,"pq1":52.3,"year":2009},{"ipp":6.3,"pq1":51.8,"year":2005},{"ipp":1.6,"pq1":51.2,"year":2008},{"ipp":2.15,"pq1":51.4,"year":2013},{"ipp":2.65,"pq1":51.2,"year":2017},{"ipp":3.3,"pq1":51.4,"year":2018},{"ipp":3.75,"pq1":51.2,"year":2016},{"ipp":4.3,"pq1":51,"year":2010},{"ipp":4.8,"pq1":50.9,"year":2015},{"ipp":5.35,"pq1":51,"year":2007},{"ipp":5.75,"pq1":51,"year":2013},{"ipp":2,"pq1":49.9,"year":2012},{"ipp":2.5,"pq1":50,"year":2010},{"ipp":3,"pq1":50.3,"year":2013},{"ipp":3.5,"pq1":50.1,"year":2009},{"ipp":4,"pq1":49.9,"year":2013},{"ipp":4.6,"pq1":49.8,"year":2007},{"ipp":5.1,"pq1":49.8,"year":2016},{"ipp":5.6,"pq1":49.9,"year":2009},{"ipp":6.1,"pq1":49.3,"year":2014},{"ipp":6.6,"pq1":49.9,"year":2002},{"ipp":1.1,"pq1":47.1,"year":2008},{"ipp":1.65,"pq1":47.6,"year":2003},{"ipp":2.05,"pq1":48.6,"year":2007},{"ipp":2.45,"pq1":48.6,"year":2016},{"ipp":3,"pq1":48.5,"year":2014},{"ipp":3.55,"pq1":48.6,"year":2007},{"ipp":4,"pq1":48.4,"year":2017},{"ipp":4.55,"pq1":48.2,"year":2008},{"ipp":5.05,"pq1":48.4,"year":2010},{"ipp":5.55,"pq1":48.3,"year":2002},{"ipp":6.05,"pq1":48.2,"year":2007},{"ipp":6.4,"pq1":48,"year":2001},{"ipp":1.45,"pq1":46.4,"year":2000},{"ipp":1.95,"pq1":46.8,"year":2010},{"ipp":2.5,"pq1":47,"year":2018},{"ipp":2.95,"pq1":46.9,"year":2006},{"ipp":3.4,"pq1":46.8,"year":2014},{"ipp":3.85,"pq1":46.6,"year":2011},{"ipp":4.4,"pq1":46.8,"year":2004},{"ipp":4.9,"pq1":47,"year":2016},{"ipp":5.4,"pq1":47,"year":2008},{"ipp":5.95,"pq1":46.6,"year":2004},{"ipp":6.6,"pq1":46.8,"year":2007},{"ipp":1.85,"pq1":45.4,"year":2003},{"ipp":2.3,"pq1":45.5,"year":2011},{"ipp":2.75,"pq1":45.6,"year":2004},{"ipp":3.2,"pq1":45.4,"year":2017},{"ipp":3.6,"pq1":45.3,"year":2008},{"ipp":4.05,"pq1":45.4,"year":2014},{"ipp":4.5,"pq1":45.5,"year":2001},{"ipp":5.05,"pq1":45.5,"year":2012},{"ipp":5.6,"pq1":45.8,"year":2017},{"ipp":6.1,"pq1":45,"year":2006},{"ipp":6.55,"pq1":45.5,"year":2010},{"ipp":1.5,"pq1":44.8,"year":2002},{"ipp":2,"pq1":44.4,"year":2005},{"ipp":2.55,"pq1":44.2,"year":2012},{"ipp":3.05,"pq1":44.2,"year":2010},{"ipp":3.5,"pq1":44.4,"year":2013},{"ipp":3.95,"pq1":44.2,"year":2008},{"ipp":4.45,"pq1":44.2,"year":2017},{"ipp":5,"pq1":44,"year":2012},{"ipp":5.55,"pq1":44,"year":2005},{"ipp":6.05,"pq1":43.6,"year":2002},{"ipp":6.5,"pq1":44,"year":2008},{"ipp":3.7,"pq1":43,"year":2010},{"ipp":4.3,"pq1":43,"year":2009},{"ipp":4.9,"pq1":43,"year":2013},{"ipp":5.4,"pq1":43,"year":2008},
{"ipp":2.7,"pq1":76.2,"year":2014},{"ipp":2.95,"pq1":78.3,"year":2015},{"ipp":3.15,"pq1":75.4,"year":2014},{"ipp":3.42,"pq1":77.2,"year":2015},{"ipp":3.72,"pq1":77.5,"year":2014},{"ipp":4.05,"pq1":75.2,"year":2015},{"ipp":4.45,"pq1":76.8,"year":2014},{"ipp":4.9,"pq1":76.6,"year":2013},{"ipp":5.05,"pq1":74,"year":2014},{"ipp":4.75,"pq1":73.8,"year":2015},{"ipp":4.4,"pq1":74.1,"year":2014},{"ipp":3.95,"pq1":74,"year":2015},{"ipp":3.45,"pq1":72.6,"year":2015},{"ipp":3.15,"pq1":71.9,"year":2016},{"ipp":2.82,"pq1":71.6,"year":2015},{"ipp":2.45,"pq1":71.4,"year":2015},{"ipp":3.85,"pq1":72.2,"year":2015},{"ipp":4.2,"pq1":71.9,"year":2015},{"ipp":4.65,"pq1":71.7,"year":2014},{"ipp":5.1,"pq1":71.2,"year":2014},{"ipp":5.4,"pq1":72.3,"year":2013},{"ipp":5.55,"pq1":73.5,"year":2012},{"ipp":5.35,"pq1":74.8,"year":2012},{"ipp":4.9,"pq1":69,"year":2016},{"ipp":4.45,"pq1":69.8,"year":2016},{"ipp":3.9,"pq1":69,"year":2016},{"ipp":3.6,"pq1":70,"year":2016},{"ipp":3.05,"pq1":70.2,"year":2016},{"ipp":2.7,"pq1":69.8,"year":2016},{"ipp":2.95,"pq1":68,"year":2017},{"ipp":3.5,"pq1":68,"year":2016},{"ipp":4.1,"pq1":68.6,"year":2016},{"ipp":2.45,"pq1":67.2,"year":2016},{"ipp":2.75,"pq1":67.2,"year":2017},{"ipp":3.05,"pq1":66.9,"year":2017},{"ipp":3.55,"pq1":67,"year":2017},{"ipp":4.65,"pq1":65.9,"year":2016},{"ipp":5.35,"pq1":67,"year":2015},{"ipp":5.5,"pq1":68.3,"year":2014},{"ipp":5.3,"pq1":66.2,"year":2015},{"ipp":4.95,"pq1":66,"year":2016},{"ipp":2.45,"pq1":64.4,"year":2017},{"ipp":2.85,"pq1":64.5,"year":2017},{"ipp":3.1,"pq1":64.1,"year":2016},{"ipp":3.6,"pq1":64.9,"year":2017},{"ipp":4.1,"pq1":64.2,"year":2016},{"ipp":4.7,"pq1":64,"year":2015},{"ipp":2.75,"pq1":62.8,"year":2018},{"ipp":3.1,"pq1":62.4,"year":2017},{"ipp":3.55,"pq1":63,"year":2016},{"ipp":4.45,"pq1":63,"year":2015},{"ipp":2.25,"pq1":62.2,"year":2015},{"ipp":2.75,"pq1":61,"year":2017},{"ipp":3.25,"pq1":60.8,"year":2017},{"ipp":3.7,"pq1":61.2,"year":2018},{"ipp":4.15,"pq1":61.3,"year":2016},{"ipp":4.55,"pq1":62,"year":2014},{"ipp":2.3,"pq1":85.9,"year":2012},{"ipp":2.7,"pq1":85.2,"year":2014},{"ipp":3.1,"pq1":84.8,"year":2014},{"ipp":3.9,"pq1":84.1,"year":2012},{"ipp":2.55,"pq1":83.2,"year":2013},{"ipp":3.15,"pq1":82.8,"year":2014},{"ipp":3.45,"pq1":82.1,"year":2012},{"ipp":2.2,"pq1":83.6,"year":2009},{"ipp":4.35,"pq1":83.2,"year":2013},{"ipp":3.75,"pq1":80.2,"year":2015},{"ipp":3,"pq1":80.8,"year":2013},{"ipp":4.3,"pq1":79.9,"year":2014},{"ipp":4.85,"pq1":82.3,"year":2010},{"ipp":5.05,"pq1":80.1,"year":2012},{"ipp":5.2,"pq1":77.5,"year":2008},{"ipp":5.45,"pq1":76.9,"year":2013}
],
"bands":[
{"ipp":0.2,"lower":45,"upper":59,"fit":"1999"},{"ipp":5,"lower":42.5,"upper":54,"fit":"1999"},{"ipp":10,"lower":38.8,"upper":49.4,"fit":"1999"},{"ipp":13.6,"lower":34.2,"upper":47.2,"fit":"1999"},{"ipp":20,"lower":25.9,"upper":44.5,"fit":"1999"},{"ipp":27,"lower":14.5,"upper":42.5,"fit":"1999"},{"ipp":33.95,"lower":3.9,"upper":41.3,"fit":"1999"},
{"ipp":0.2,"lower":56.4,"upper":63.2,"fit":"2018"},{"ipp":3,"lower":58,"upper":62.8,"fit":"2018"},{"ipp":6,"lower":59.2,"upper":63.1,"fit":"2018"},{"ipp":10,"lower":59.4,"upper":64.2,"fit":"2018"},{"ipp":14.3,"lower":59.2,"upper":65.6,"fit":"2018"},{"ipp":20,"lower":58.6,"upper":68.4,"fit":"2018"},{"ipp":27,"lower":57.7,"upper":72.7,"fit":"2018"},{"ipp":33.95,"lower":56.7,"upper":75.8,"fit":"2018"}
],
"fits":[{"ipp":0.2,"pq1":52.2,"fit":"1999"},{"ipp":33.95,"pq1":22.5,"fit":"1999"},{"ipp":0.2,"pq1":59.8,"fit":"2018"},{"ipp":33.95,"pq1":66.2,"fit":"2018"}]
},
"layer":[
{"data":{"name":"journals"},"mark":{"type":"point","shape":"circle","filled":true,"opacity":1,"size":195,"strokeWidth":0},
"encoding":{"x":{"field":"ipp","type":"quantitative","scale":{"domain":[-1.47,35.6],"nice":false,"zero":false},"axis":{"values":[0,5,10,15,20,25,30,35],"labelExpr":"datum.value % 10 == 0 ? datum.label : ''","title":"Impact Per Publication (IPP)","grid":false,"domainColor":"black","domainWidth":3,"tickColor":"black","tickWidth":2.5,"tickSize":{"condition":{"test":"datum.value % 10 != 0","value":3},"value":6},"labelFontSize":33,"labelPadding":4,"labelColor":"black","titleFontSize":41,"titleFontWeight":"normal","titleColor":"black","titleBaseline":"alphabetic","titleX":684,"titleY":94,"labelFlush":false}},
"y":{"field":"pq1","type":"quantitative","scale":{"domain":[-5,105.2],"nice":false,"zero":false},"axis":{"values":[0,12.5,25,37.5,50,62.5,75,87.5,100],"labelExpr":"datum.value % 25 == 0 ? datum.label : ''","title":"Journal mean PQ₁(t, d) [%]","grid":false,"domainColor":"black","domainWidth":3,"tickColor":"black","tickWidth":2.5,"tickSize":{"condition":{"test":"datum.value % 25 != 0","value":3},"value":6},"labelFontSize":33,"labelPadding":6,"labelColor":"black","titleFontSize":41,"titleFontWeight":"normal","titleColor":"black","titlePadding":20}},
"color":{"field":"year","type":"quantitative","scale":{"scheme":"viridis","domain":[1998.5,2018.5],"nice":false},"legend":{"orient":"none","legendX":1475,"legendY":149,"title":"Year","titleFontSize":41,"titleFontWeight":"normal","titleColor":"black","titlePadding":2,"values":[2000,2005,2010,2015],"format":"d","gradientLength":364,"gradientThickness":73,"gradientStrokeWidth":0,"labelFontSize":33,"labelColor":"black","labelOffset":11,"labelOverlap":false,"direction":"vertical"}},
"order":{"field":"year","type":"quantitative"}}},
{"data":{"name":"bands"},"mark":{"type":"area","color":"#999999","opacity":0.4},"encoding":{"x":{"field":"ipp","type":"quantitative"},"y":{"field":"lower","type":"quantitative"},"y2":{"field":"upper"},"detail":{"field":"fit"}}},
{"data":{"name":"fits"},"transform":[{"filter":"datum.fit == '1999'"}],"mark":{"type":"line","color":"#440154","strokeWidth":5.5},"encoding":{"x":{"field":"ipp","type":"quantitative"},"y":{"field":"pq1","type":"quantitative"}}},
{"data":{"name":"fits"},"transform":[{"filter":"datum.fit == '2018'"}],"mark":{"type":"line","color":"#fde725","strokeWidth":5.5},"encoding":{"x":{"field":"ipp","type":"quantitative"},"y":{"field":"pq1","type":"quantitative"}}}
]
}
